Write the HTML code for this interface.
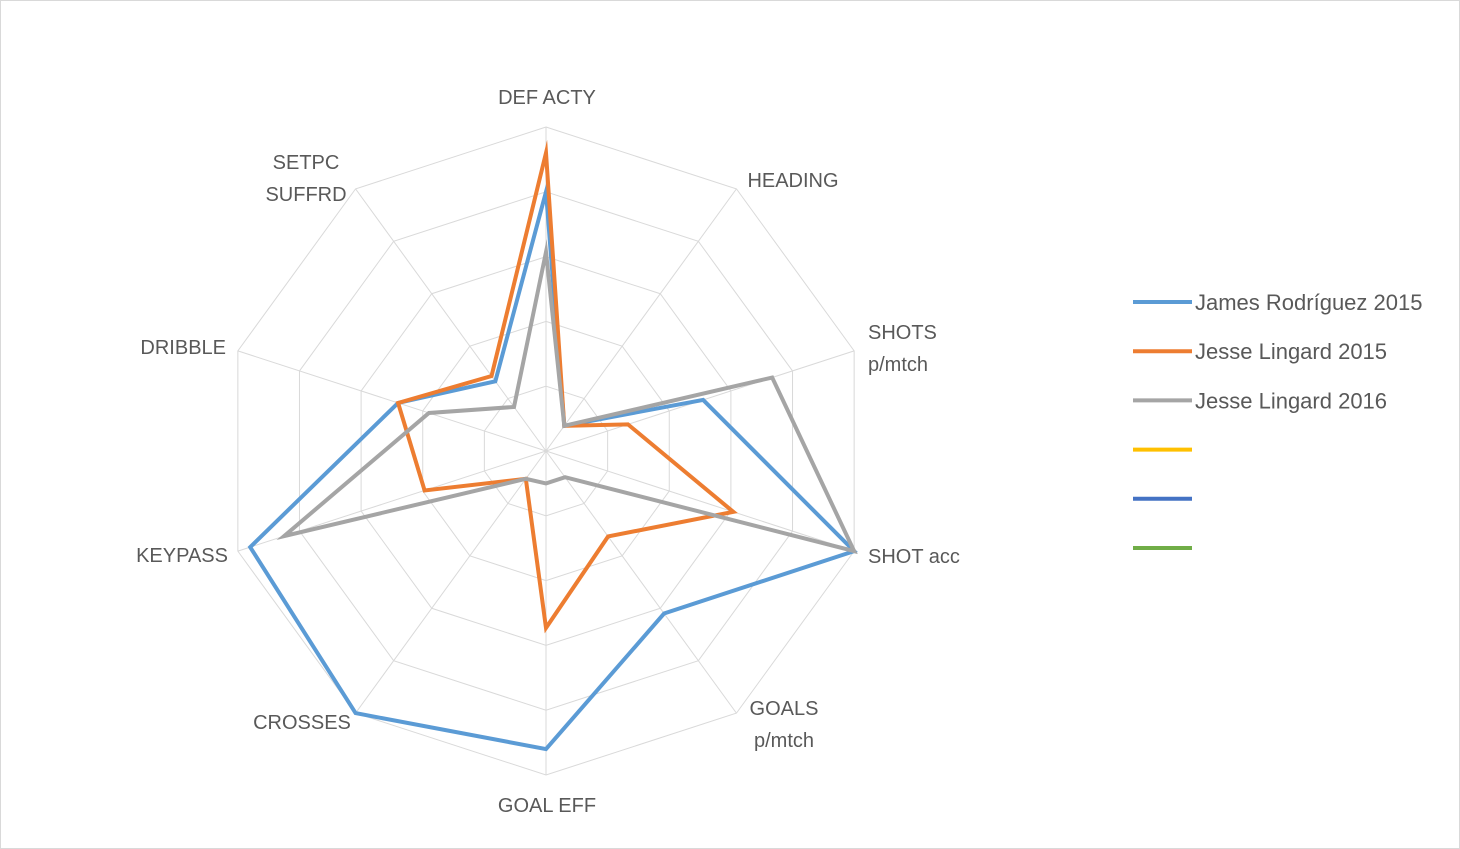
<!DOCTYPE html>
<html><head><meta charset="utf-8"><style>
html,body{margin:0;padding:0;background:#fff;}
svg{display:block;}
text{font-family:"Liberation Sans",sans-serif;fill:#595959;}
</style></head><body>
<svg id="chart" width="1460" height="849" viewBox="0 0 1460 849">
<rect x="0.5" y="0.5" width="1459" height="848" fill="#fff" stroke="#d9d9d9"/>
<g id="grid"></g>
<g id="series"></g>
<g id="labels"></g>
<g id="legend"></g>
</svg>
<script>
const categories = ["DEF ACTY","HEADING","SHOTS|p/mtch","SHOT acc","GOALS|p/mtch","GOAL EFF","CROSSES","KEYPASS","DRIBBLE","SETPC|SUFFRD"];
const jamesValues = [4.0,0.48,2.55,5.0,3.1,4.6,5.0,4.8,2.4,1.33];
const lingard2015Values = [4.6,0.48,1.33,3.04,1.63,2.73,0.53,1.97,2.4,1.43];
const lingard2016Values = [3.07,0.48,3.67,5.0,0.5,0.5,0.53,4.25,1.9,0.84];
const seriesNames = ["James Rodríguez 2015","Jesse Lingard 2015","Jesse Lingard 2016","","",""];
const seriesColors = ["#5b9bd5","#ed7d31","#a5a5a5","#ffc000","#4472c4","#70ad47"];
const maxValue = 5;
const ringCount = 5;

const NS="http://www.w3.org/2000/svg";
const cx=546, cy=451, R=324;
// label layout (x, first baseline y, anchor)
const labelLayout=[[547,104,'middle'],[793,187,'middle'],[868,339,'start'],[868,563,'start'],[784,715,'middle'],[547,812,'middle'],[302,729,'middle'],[228,562,'end'],[226,354,'end'],[306,169,'middle']];
function pt(i,v){const a=i*2*Math.PI/categories.length;const r=v/maxValue*R;return [cx+r*Math.sin(a), cy-r*Math.cos(a)];}
function mk(tag,attrs,parent){const e=document.createElementNS(NS,tag);for(const k in attrs)e.setAttribute(k,attrs[k]);parent.appendChild(e);return e;}

const grid=document.getElementById('grid');
for(let k=1;k<=ringCount;k++){
  const v=k*maxValue/ringCount;
  const p=categories.map((c,i)=>pt(i,v).join(',')).join(' ');
  const e=mk('polygon',{points:p,fill:'none',stroke:'#d9d9d9','stroke-width':1},grid);
  
  
}
categories.forEach((c,i)=>{
  const [x,y]=pt(i,maxValue);
  const e=mk('line',{x1:cx,y1:cy,x2:x,y2:y,stroke:'#d9d9d9','stroke-width':1},grid);
  
  
});

const sg=document.getElementById('series');
[jamesValues,lingard2015Values,lingard2016Values].forEach((vals,s)=>{
  const p=vals.map((v,i)=>pt(i,v).join(',')).join(' ');
  const e=mk('polygon',{points:p,fill:'none',stroke:seriesColors[s],'stroke-width':4,'stroke-linejoin':'miter','stroke-miterlimit':10},sg);
  
  
});

const lg=document.getElementById('labels');
categories.forEach((c,i)=>{
  const [x,y,anchor]=labelLayout[i];
  const lines=c.split('|');
  const t=mk('text',{x:x,y:y,'text-anchor':anchor,'font-size':20},lg);
  
  
  lines.forEach((ln,j)=>{const ts=mk('tspan',{x:x,y:y+j*32},t);ts.textContent=ln;});
});

const leg=document.getElementById('legend');
seriesNames.forEach((n,i)=>{
  const y=302+i*49.2;
  const l=mk('line',{x1:1133,y1:y,x2:1192,y2:y,stroke:seriesColors[i],'stroke-width':4},leg);
  
  
  if(n){const t=mk('text',{x:1195,y:y+8,'font-size':22},leg);t.textContent=n;
    
    }
});
</script>
</body></html>
